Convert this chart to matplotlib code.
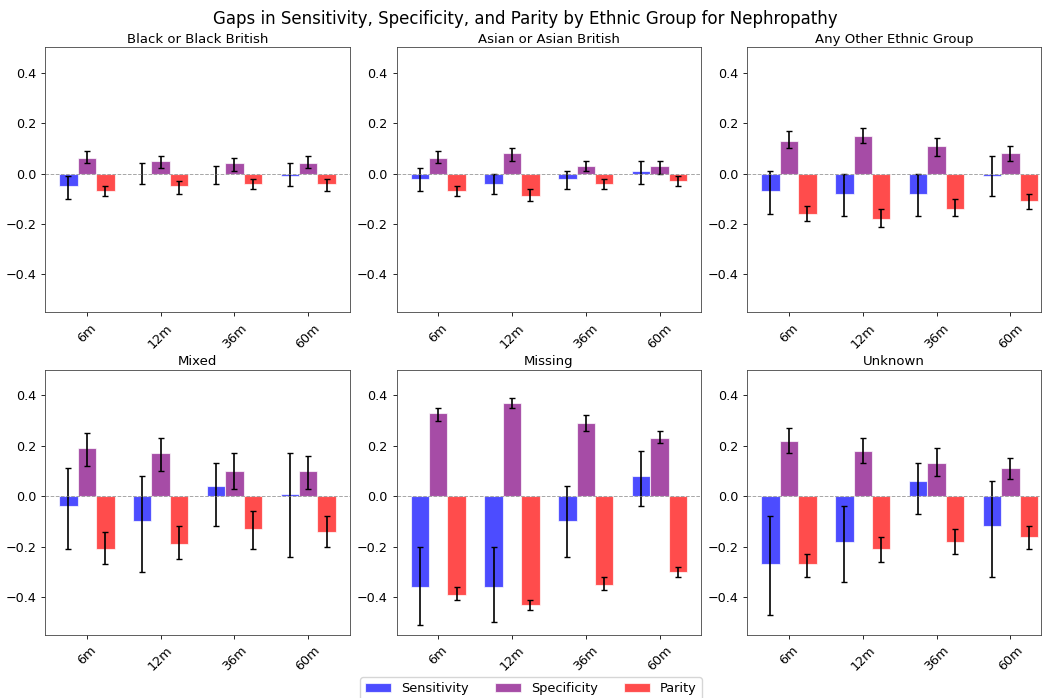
import numpy as np
import matplotlib
matplotlib.use("Agg")
import matplotlib.pyplot as plt

# Data
horizons = ["6m", "12m", "36m", "60m"]
groups = ["Black or Black British", "Asian or Asian British", "Any Other Ethnic Group",
          "Mixed", "Missing", "Unknown"]
metrics = ["Sensitivity", "Specificity", "Parity"]
colors = ["blue", "purple", "red"]

# gap values and confidence bounds per group, one entry per horizon
sens = {
    "Black or Black British": [-0.05, 0.00, 0.00, -0.01],
    "Asian or Asian British": [-0.02, -0.04, -0.02, 0.01],
    "Any Other Ethnic Group": [-0.07, -0.08, -0.08, -0.01],
    "Mixed": [-0.04, -0.10, 0.04, 0.01],
    "Missing": [-0.36, -0.36, -0.10, 0.08],
    "Unknown": [-0.27, -0.18, 0.06, -0.12],
}
sens_lo = {
    "Black or Black British": [-0.10, -0.04, -0.04, -0.05],
    "Asian or Asian British": [-0.07, -0.08, -0.06, -0.04],
    "Any Other Ethnic Group": [-0.16, -0.17, -0.17, -0.09],
    "Mixed": [-0.21, -0.30, -0.12, -0.24],
    "Missing": [-0.51, -0.50, -0.24, -0.04],
    "Unknown": [-0.47, -0.34, -0.07, -0.32],
}
sens_hi = {
    "Black or Black British": [-0.01, 0.04, 0.03, 0.04],
    "Asian or Asian British": [0.02, 0.00, 0.01, 0.05],
    "Any Other Ethnic Group": [0.01, 0.00, 0.00, 0.07],
    "Mixed": [0.11, 0.08, 0.13, 0.17],
    "Missing": [-0.20, -0.20, 0.04, 0.18],
    "Unknown": [-0.08, -0.04, 0.13, 0.06],
}
spec = {
    "Black or Black British": [0.06, 0.05, 0.04, 0.04],
    "Asian or Asian British": [0.06, 0.08, 0.03, 0.03],
    "Any Other Ethnic Group": [0.13, 0.15, 0.11, 0.08],
    "Mixed": [0.19, 0.17, 0.10, 0.10],
    "Missing": [0.33, 0.37, 0.29, 0.23],
    "Unknown": [0.22, 0.18, 0.13, 0.11],
}
spec_lo = {
    "Black or Black British": [0.04, 0.02, 0.01, 0.02],
    "Asian or Asian British": [0.04, 0.05, 0.01, 0.00],
    "Any Other Ethnic Group": [0.10, 0.12, 0.07, 0.05],
    "Mixed": [0.12, 0.10, 0.03, 0.03],
    "Missing": [0.30, 0.35, 0.26, 0.21],
    "Unknown": [0.17, 0.13, 0.08, 0.07],
}
spec_hi = {
    "Black or Black British": [0.09, 0.07, 0.06, 0.07],
    "Asian or Asian British": [0.09, 0.10, 0.05, 0.05],
    "Any Other Ethnic Group": [0.17, 0.18, 0.14, 0.11],
    "Mixed": [0.25, 0.23, 0.17, 0.16],
    "Missing": [0.35, 0.39, 0.32, 0.26],
    "Unknown": [0.27, 0.23, 0.19, 0.15],
}
parity = {
    "Black or Black British": [-0.07, -0.05, -0.04, -0.04],
    "Asian or Asian British": [-0.07, -0.09, -0.04, -0.03],
    "Any Other Ethnic Group": [-0.16, -0.18, -0.14, -0.11],
    "Mixed": [-0.21, -0.19, -0.13, -0.14],
    "Missing": [-0.39, -0.43, -0.35, -0.30],
    "Unknown": [-0.27, -0.21, -0.18, -0.16],
}
parity_lo = {
    "Black or Black British": [-0.09, -0.08, -0.06, -0.07],
    "Asian or Asian British": [-0.09, -0.11, -0.06, -0.05],
    "Any Other Ethnic Group": [-0.19, -0.21, -0.17, -0.14],
    "Mixed": [-0.27, -0.25, -0.21, -0.20],
    "Missing": [-0.41, -0.45, -0.37, -0.32],
    "Unknown": [-0.32, -0.26, -0.23, -0.21],
}
parity_hi = {
    "Black or Black British": [-0.05, -0.03, -0.02, -0.02],
    "Asian or Asian British": [-0.05, -0.06, -0.02, -0.01],
    "Any Other Ethnic Group": [-0.13, -0.14, -0.10, -0.08],
    "Mixed": [-0.14, -0.12, -0.06, -0.08],
    "Missing": [-0.36, -0.41, -0.32, -0.28],
    "Unknown": [-0.23, -0.16, -0.13, -0.12],
}

series = [(sens, sens_lo, sens_hi), (spec, spec_lo, spec_hi), (parity, parity_lo, parity_hi)]

fig, axes = plt.subplots(2, 3, figsize=(10.42, 6.98), dpi=100)

# panel placement (the right column runs into the figure edge)
col_x = [0.0435, 0.3807, 0.7172]
col_w = [0.2921, 0.2921, 0.2816]
row_y = [0.5526, 0.0903]
row_h = 0.3795

x = np.arange(len(horizons))
width = 0.25

for i, g in enumerate(groups):
    r, c = divmod(i, 3)
    ax = axes[r, c]
    ax.set_position([col_x[c], row_y[r], col_w[c], row_h])
    for k, (vals, lo, hi) in enumerate(series):
        v = np.array(vals[g])
        err = np.array([v - np.array(lo[g]), np.array(hi[g]) - v])
        ax.bar(x + (k - 1) * width, v, width, yerr=err, capsize=2,
               color=colors[k], alpha=0.7, edgecolor="white", linewidth=0.8,
               label=metrics[k], error_kw=dict(ecolor="black", elinewidth=1.2, capthick=1.0))
    ax.axhline(0, color="grey", linestyle="--", linewidth=0.7, alpha=0.7)
    ax.set_title(g, fontsize=9.5, pad=3.3)
    ax.set_xticks(x)
    ax.set_xticklabels(horizons, rotation=45)
    ax.set_ylim(-0.55, 0.5)
    if c == 2:
        ax.set_xlim(-0.5625, 3.41)
    else:
        ax.set_xlim(-0.5625, 3.5625)
    ax.set_yticks([-0.4, -0.2, 0.0, 0.2, 0.4])
    ax.tick_params(labelsize=9.2, length=3, width=0.6)
    for s in ax.spines.values():
        s.set_linewidth(0.6)
        s.set_color("#444444")

handles, labels = axes[0, 0].get_legend_handles_labels()
fig.legend(handles, labels, loc="lower center", ncol=3, fontsize=9.3,
           bbox_to_anchor=(0.5096, -0.013))
fig.suptitle("Gaps in Sensitivity, Specificity, and Parity by Ethnic Group for Nephropathy",
             fontsize=12, x=0.504, y=0.986)

plt.savefig("out.png")
